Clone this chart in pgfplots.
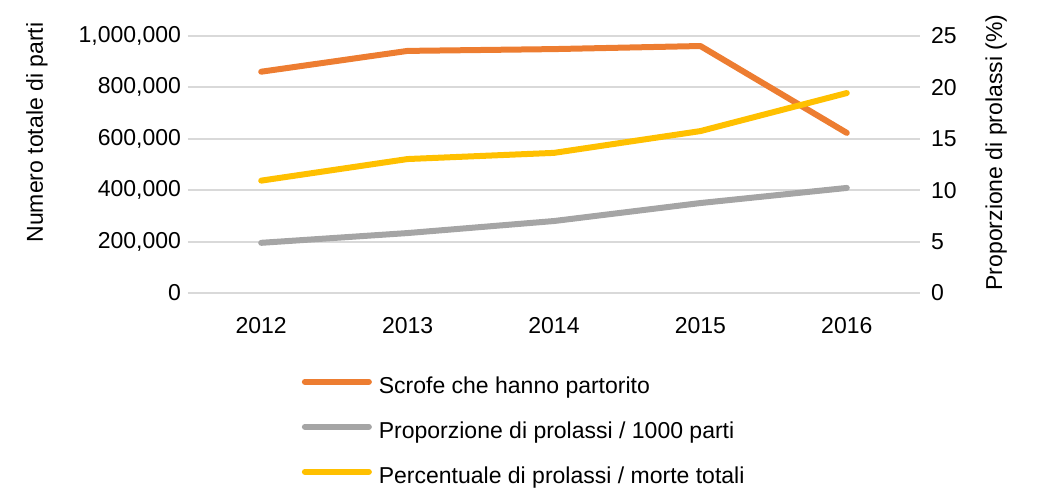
\documentclass[border=0pt]{standalone}
\usepackage{pgfplots}
\pgfplotsset{compat=1.18}
\usepackage{fontspec}
\setmainfont{Liberation Sans}
\definecolor{cOrange}{HTML}{ED7D31}
\definecolor{cGray}{HTML}{A5A5A5}
\definecolor{cYellow}{HTML}{FFC000}
\definecolor{cGrid}{HTML}{D9D9D9}
\begin{document}
\begin{tikzpicture}[font=\fontsize{11.5}{13.8}\selectfont]
\pgfplotsset{
  common/.style={
    scale only axis, width=366pt, height=128.5pt,
    at={(94pt,101.5pt)}, anchor=south west,
    xmin=2011.5, xmax=2016.5,
    axis line style={draw=none}, major tick length=0pt,
    /pgf/number format/assume math mode=true,
    tick label style={font=\fontsize{11.5}{13.8}\selectfont},
    label style={font=\fontsize{11.5}{13.8}\selectfont},
  }
}
\begin{axis}[common,
  ymin=0, ymax=1000000, ytick={0,200000,400000,600000,800000,1000000},
  scaled y ticks=false,
  yticklabel style={/pgf/number format/.cd, fixed, 1000 sep={,}},
  xtick={2012,2013,2014,2015,2016},
  xticklabel style={/pgf/number format/1000 sep={}, yshift=-8.5pt},
  ymajorgrids, grid style={cGrid, line width=1pt},
  ylabel={Numero totale di parti},
  every axis y label/.style={at={(rel axis cs:-0.2063,0.6245)}, rotate=90, anchor=center},
  legend image code/.code={\draw[#1] (0pt,3pt) -- (32pt,3pt);},
  legend cell align=left,
  legend style={draw=none, fill=none, at={(axis description cs:0.155,-0.3245)}, anchor=north west,
    row sep=11.5pt, column sep=3.5pt, inner sep=0pt,
    nodes={inner sep=0pt, text height=8.5pt, text depth=2.5pt, font=\fontsize{11.5}{13.8}\selectfont}},
]
\addplot[cOrange, line width=3pt, line join=round, line cap=round] coordinates {
  (2012,861000) (2013,942000) (2014,949000) (2015,961000) (2016,623000)};
\addlegendentry{Scrofe che hanno partorito}
\addlegendimage{cGray, line width=3pt, line cap=round}
\addlegendentry{Proporzione di prolassi / 1000 parti}
\addlegendimage{cYellow, line width=3pt, line cap=round}
\addlegendentry{Percentuale di prolassi / morte totali}
\end{axis}
\begin{axis}[common,
  ymin=0, ymax=25, ytick={0,5,10,15,20,25},
  yticklabel pos=right,
  yticklabel style={xshift=2pt},
  xtick=\empty,
  ylabel={Proporzione di prolassi (\%)},
  every axis y label/.style={at={(rel axis cs:1.104,0.547)}, rotate=90, anchor=center},
]
\addplot[cGray, line width=3pt, line join=round, line cap=round] coordinates {
  (2012,4.88) (2013,5.83) (2014,7.00) (2015,8.75) (2016,10.22)};
\addplot[cYellow, line width=3pt, line join=round, line cap=round] coordinates {
  (2012,10.93) (2013,13.03) (2014,13.63) (2015,15.75) (2016,19.45)};
\end{axis}
\pgfresetboundingbox
\path[use as bounding box] (0,0) rectangle (519pt,248pt);
\end{tikzpicture}
\end{document}
